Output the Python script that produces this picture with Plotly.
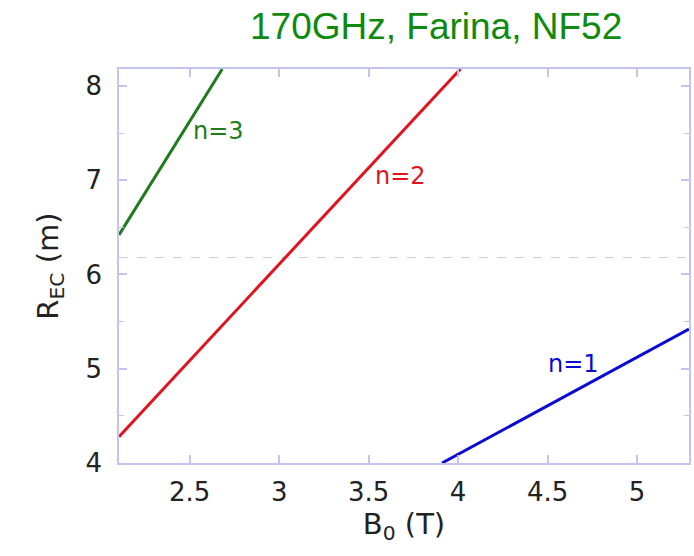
import plotly.graph_objects as go

# Electron-cyclotron resonance radius vs. on-axis field, by harmonic
b_n1 = [3.91, 5.29]
r_n1 = [4.0, 5.42]
b_n2 = [2.105, 4.013]
r_n2 = [4.28, 8.18]
b_n3 = [2.105, 2.682]
r_n3 = [6.42, 8.18]

# Reference major radius marker
r_ref = 6.18

x_range = [2.105, 5.29]
y_range = [4.0, 8.18]
x_ticks = [2.5, 3, 3.5, 4, 4.5, 5]
x_tick_text = ["2.5", "3", "3.5", "4", "4.5", "5"]
y_ticks = [4, 5, 6, 7, 8]
y_tick_text = ["4", "5", "6", "7", "8"]

GREEN = "#1e7b1e"
RED = "#e0141e"
BLUE = "#0a0ad2"
FRAME = "#c4c4ee"
TEXT = "#222222"
FONT = "DejaVu Sans"

fig = go.Figure()

fig.add_trace(go.Scatter(x=x_range, y=[r_ref, r_ref], mode="lines",
                         line=dict(color="#d0d0d0", width=1.2, dash="dash"),
                         hoverinfo="skip", showlegend=False))
fig.add_trace(go.Scatter(x=b_n3, y=r_n3, mode="lines",
                         line=dict(color=GREEN, width=3), showlegend=False))
fig.add_trace(go.Scatter(x=b_n2, y=r_n2, mode="lines",
                         line=dict(color=RED, width=3), showlegend=False))
fig.add_trace(go.Scatter(x=b_n1, y=r_n1, mode="lines",
                         line=dict(color=BLUE, width=3), showlegend=False))

labels = [
    (2.661, 7.52, "n=3", GREEN),
    (3.680, 7.045, "n=2", RED),
    (4.644, 5.05, "n=1", BLUE),
]
for x, y, t, c in labels:
    fig.add_annotation(x=x, y=y, text=t, showarrow=False,
                       font=dict(family=FONT, size=24, color=c),
                       xanchor="center", yanchor="middle")

fig.add_annotation(xref="paper", yref="paper", x=0.557, y=1.109,
                   text="170GHz, Farina, NF52", showarrow=False,
                   font=dict(family="Liberation Sans", size=37, color="#0e8a0e"),
                   xanchor="center", yanchor="middle")

axis_common = dict(
    showline=True, linecolor=FRAME, linewidth=1.5, mirror="ticks",
    ticks="inside", tickcolor=FRAME, ticklen=8, tickwidth=1.5,
    showgrid=False, zeroline=False,
    tickfont=dict(family=FONT, size=26, color=TEXT),
)

fig.update_layout(
    width=694, height=556,
    margin=dict(l=119, r=3, t=69, b=93),
    paper_bgcolor="white", plot_bgcolor="white",
    xaxis=dict(range=x_range, tickvals=x_ticks, ticktext=x_tick_text,
               title=dict(text="B<sub>0</sub> (T)", standoff=4,
                          font=dict(family=FONT, size=29, color=TEXT)),
               ticklabelstandoff=5, **axis_common),
    yaxis=dict(range=y_range, tickvals=y_ticks, ticktext=y_tick_text,
               title=dict(text="R<sub>EC</sub> (m)", standoff=18,
                          font=dict(family=FONT, size=29, color=TEXT)),
               ticklabelstandoff=10,
               minor=dict(dtick=0.5, tick0=4, ticks="inside", ticklen=5,
                          tickcolor=FRAME, tickwidth=1.2),
               **axis_common),
)

fig.write_html("out.html")
